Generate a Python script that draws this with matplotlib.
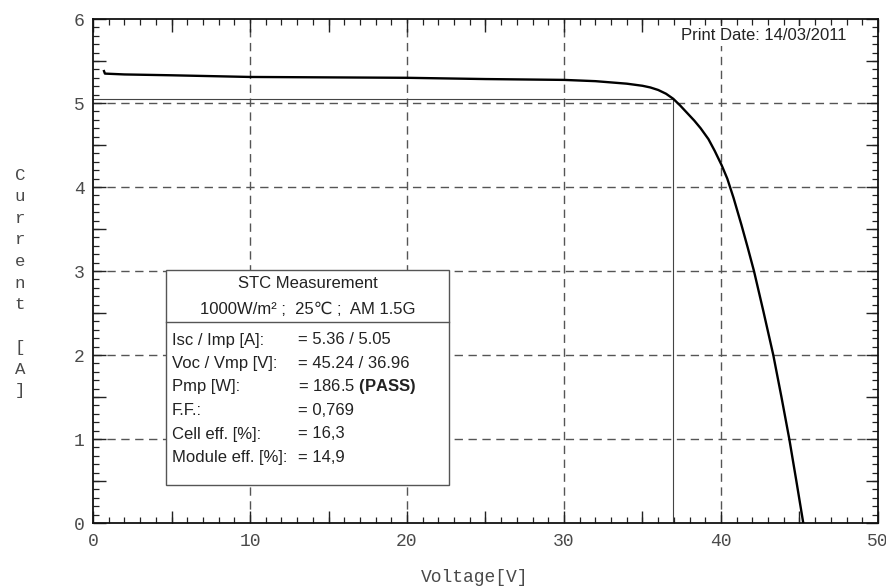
import matplotlib
matplotlib.use("Agg")
import matplotlib.pyplot as plt
from matplotlib.ticker import MultipleLocator
from matplotlib.patches import Rectangle

# ---- data ----
voltage = [0.70, 0.76, 2.0, 5.0, 10.0, 15.0, 20.0, 25.0, 30.0, 32.0, 33.0, 34.0,
           35.0, 35.5, 36.0, 36.5, 36.96, 37.4, 37.8, 38.3, 38.7, 39.2, 39.6,
           40.04, 40.4, 40.8, 41.3, 41.7, 42.1, 42.7, 43.33, 43.85, 44.35, 44.8, 45.24]
current = [5.38, 5.35, 5.34, 5.33, 5.31, 5.305, 5.30, 5.285, 5.275, 5.26, 5.245, 5.23,
           5.205, 5.185, 5.155, 5.11, 5.05, 4.97, 4.89, 4.79, 4.70, 4.57, 4.43,
           4.26, 4.10, 3.87, 3.55, 3.28, 3.00, 2.52, 2.00, 1.50, 1.00, 0.50, 0.00]
vmp = 36.96
imp = 5.05

box_title = ["STC Measurement", "1000W/m² ;  25℃ ;  AM 1.5G"]
box_labels = ["Isc / Imp [A]:", "Voc / Vmp [V]:", "Pmp [W]:", "F.F.:",
              "Cell eff. [%]:", "Module eff. [%]:"]
box_values = ["= 5.36 / 5.05", "= 45.24 / 36.96", r"= 186.5 $\mathbf{(PASS)}$",
              "= 0,769", "= 16,3", "= 14,9"]
print_date = "Print Date: 14/03/2011"

plt.rcParams['mathtext.fontset'] = 'custom'
plt.rcParams['mathtext.rm'] = 'Liberation Sans'
plt.rcParams['mathtext.bf'] = 'Liberation Sans:bold'

sans = ['Liberation Sans', 'DejaVu Sans']
mono = ['Liberation Mono', 'DejaVu Sans Mono']

fig = plt.figure(figsize=(8.87, 5.87), dpi=100)
ax = fig.add_axes([93/887, 64/587, 785/887, 504/587])

ax.set_xlim(0, 50)
ax.set_ylim(0, 6)

# grid
for gx in range(10, 50, 10):
    ax.axvline(gx, color='#555555', lw=1.0, dashes=(6, 4), zorder=1)
for gy in range(1, 6):
    ax.axhline(gy, color='#555555', lw=1.0, dashes=(6, 4), zorder=1)

# Vmp / Imp reference lines
ax.plot([0, vmp], [imp, imp], color='#444444', lw=0.8, zorder=2)
ax.plot([vmp, vmp], [0, imp], color='#444444', lw=0.8, zorder=2)

# IV curve
ax.plot(voltage, current, color='black', lw=1.7, zorder=3,
        solid_joinstyle='round')

# ticks
ax.xaxis.set_major_locator(MultipleLocator(10))
ax.xaxis.set_minor_locator(MultipleLocator(1))
ax.yaxis.set_major_locator(MultipleLocator(1))
ax.yaxis.set_minor_locator(MultipleLocator(0.1))
ax.tick_params(which='both', direction='in', top=True, right=True, color='#222222')
ax.tick_params(which='major', length=9, width=1.0)
ax.tick_params(which='minor', length=4.5, width=0.9)
ax.tick_params(axis='x', which='major', pad=7)
ax.tick_params(axis='y', which='major', pad=6)
for lab in ax.get_xticklabels() + ax.get_yticklabels():
    lab.set_fontfamily(mono)
    lab.set_fontsize(13)
    lab.set_color('#4a4a4a')

# longer ticks at half steps
half_x = [5, 15, 25, 35, 45]
half_y = [0.5, 1.5, 2.5, 3.5, 4.5, 5.5]
for side in ('bottom', 'top'):
    sx = ax.secondary_xaxis(side)
    sx.set_xticks(half_x)
    sx.tick_params(direction='in', length=9, width=1.0, color='#222222',
                   labelbottom=False, labeltop=False)
    sx.spines[side].set_visible(False)
for side in ('left', 'right'):
    sy = ax.secondary_yaxis(side)
    sy.set_yticks(half_y)
    sy.tick_params(direction='in', length=9, width=1.0, color='#222222',
                   labelleft=False, labelright=False)
    sy.spines[side].set_visible(False)

for s in ax.spines.values():
    s.set_linewidth(1.3)
    s.set_color('#111111')

# axis labels
fig.text(475/887, 1 - 577/587, "Voltage[V]", ha='center', va='center',
         fontfamily=mono, fontsize=13, color='#4a4a4a')
fig.text(20/887, 1 - 283/587, "\n".join("Current [A]"), ha='center', va='center',
         fontfamily=mono, fontsize=12.5, color='#4a4a4a', linespacing=1.55)

# print date
fig.text(847/887, 1 - 36/587, print_date, ha='right', va='center',
         fontfamily=sans, fontsize=12, color='#222222', zorder=10,
         bbox=dict(facecolor='white', edgecolor='none', pad=2))

# info box (axes fraction coordinates)
def fx(px):
    return (px - 93) / 785
def fy(py):
    return (523 - py) / 504

bl, br, bt, bb = fx(166), fx(449), fy(270), fy(485)
ax.add_patch(Rectangle((bl, bb), br - bl, bt - bb, transform=ax.transAxes,
                       facecolor='white', edgecolor='#555555', lw=1.0, zorder=5))
ax.plot([bl, br], [fy(322), fy(322)], transform=ax.transAxes, color='#555555',
        lw=1.0, zorder=6)
cx = (bl + br) / 2
ax.text(cx, fy(284), box_title[0], transform=ax.transAxes, ha='center', va='center',
        fontfamily=sans, fontsize=12, color='#222222', zorder=7)
ax.text(cx, fy(309), box_title[1], transform=ax.transAxes, ha='center', va='center',
        fontfamily=sans, fontsize=12, color='#222222', zorder=7)
for i, (lab, val) in enumerate(zip(box_labels, box_values)):
    y = fy(340 + i * 23.5)
    ax.text(fx(172), y, lab, transform=ax.transAxes, ha='left', va='center',
            fontfamily=sans, fontsize=12, color='#222222', zorder=7)
    ax.text(fx(298), y, val, transform=ax.transAxes, ha='left', va='center',
            fontfamily=sans, fontsize=12, color='#222222', zorder=7)

fig.savefig("out.png", dpi=100)
